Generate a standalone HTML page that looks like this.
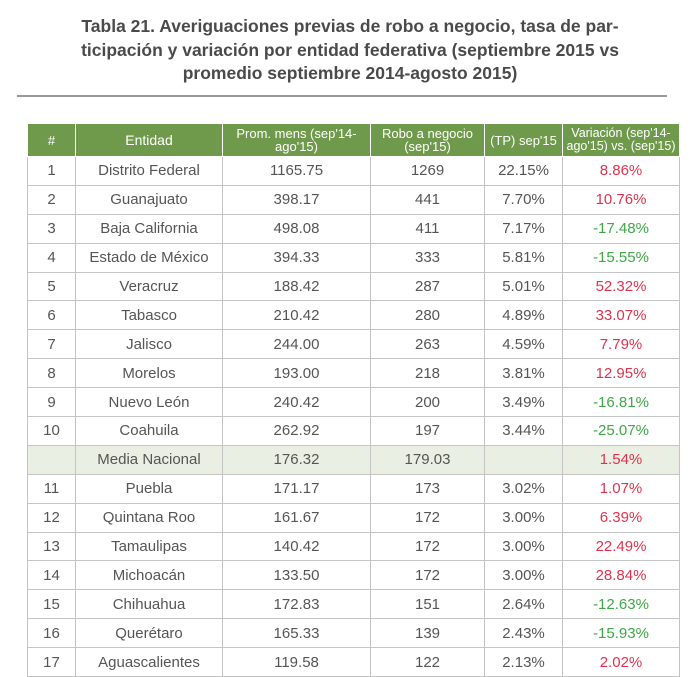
<!DOCTYPE html>
<html><head><meta charset="utf-8"><style>
body{margin:0;background:#fff;width:700px;height:673px;overflow:hidden;font-family:"Liberation Sans",sans-serif;}
h1{position:absolute;left:0;top:15px;width:700px;margin:0;text-align:center;font-size:17.5px;line-height:23.5px;color:#4a4a4a;font-weight:bold;}
.rule{position:absolute;left:17px;top:95px;width:650px;height:2px;background:#999;}
table{position:absolute;left:27px;top:123px;border-collapse:collapse;table-layout:fixed;width:652px;}
td,th{border:1px solid #c4c4c4;text-align:center;color:#555;font-size:15px;padding:0;height:27.9px;font-weight:normal;}
th{background:#6f9a4b;color:#fff;font-size:13px;line-height:13px;height:32px;border-color:#fff;}
.r{color:#e0334e}.g{color:#3ea845}
.m td{background:#e9efe2}
</style></head><body>
<h1>Tabla 21. Averiguaciones previas de robo a negocio, tasa de par-<br>ticipación y variación por entidad federativa (septiembre 2015 vs<br>promedio septiembre 2014-agosto 2015)</h1>
<div class="rule"></div>
<table>
<colgroup><col style="width:48px"><col style="width:147px"><col style="width:148px"><col style="width:114px"><col style="width:78px"><col style="width:117px"></colgroup>
<tr><th>#</th><th style="font-size:14px">Entidad</th><th>Prom. mens (sep'14-<br>ago'15)</th><th>Robo a negocio<br>(sep'15)</th><th>(TP) sep'15</th><th style="font-size:12.5px">Variación (sep'14-<br>ago'15) vs. (sep'15)</th></tr>
<tr><td>1</td><td>Distrito Federal</td><td>1165.75</td><td>1269</td><td>22.15%</td><td class="r">8.86%</td></tr>
<tr><td>2</td><td>Guanajuato</td><td>398.17</td><td>441</td><td>7.70%</td><td class="r">10.76%</td></tr>
<tr><td>3</td><td>Baja California</td><td>498.08</td><td>411</td><td>7.17%</td><td class="g">-17.48%</td></tr>
<tr><td>4</td><td>Estado de México</td><td>394.33</td><td>333</td><td>5.81%</td><td class="g">-15.55%</td></tr>
<tr><td>5</td><td>Veracruz</td><td>188.42</td><td>287</td><td>5.01%</td><td class="r">52.32%</td></tr>
<tr><td>6</td><td>Tabasco</td><td>210.42</td><td>280</td><td>4.89%</td><td class="r">33.07%</td></tr>
<tr><td>7</td><td>Jalisco</td><td>244.00</td><td>263</td><td>4.59%</td><td class="r">7.79%</td></tr>
<tr><td>8</td><td>Morelos</td><td>193.00</td><td>218</td><td>3.81%</td><td class="r">12.95%</td></tr>
<tr><td>9</td><td>Nuevo León</td><td>240.42</td><td>200</td><td>3.49%</td><td class="g">-16.81%</td></tr>
<tr><td>10</td><td>Coahuila</td><td>262.92</td><td>197</td><td>3.44%</td><td class="g">-25.07%</td></tr>
<tr class="m"><td></td><td>Media Nacional</td><td>176.32</td><td>179.03</td><td></td><td class="r">1.54%</td></tr>
<tr><td>11</td><td>Puebla</td><td>171.17</td><td>173</td><td>3.02%</td><td class="r">1.07%</td></tr>
<tr><td>12</td><td>Quintana Roo</td><td>161.67</td><td>172</td><td>3.00%</td><td class="r">6.39%</td></tr>
<tr><td>13</td><td>Tamaulipas</td><td>140.42</td><td>172</td><td>3.00%</td><td class="r">22.49%</td></tr>
<tr><td>14</td><td>Michoacán</td><td>133.50</td><td>172</td><td>3.00%</td><td class="r">28.84%</td></tr>
<tr><td>15</td><td>Chihuahua</td><td>172.83</td><td>151</td><td>2.64%</td><td class="g">-12.63%</td></tr>
<tr><td>16</td><td>Querétaro</td><td>165.33</td><td>139</td><td>2.43%</td><td class="g">-15.93%</td></tr>
<tr><td>17</td><td>Aguascalientes</td><td>119.58</td><td>122</td><td>2.13%</td><td class="r">2.02%</td></tr>
</table>
</body></html>
